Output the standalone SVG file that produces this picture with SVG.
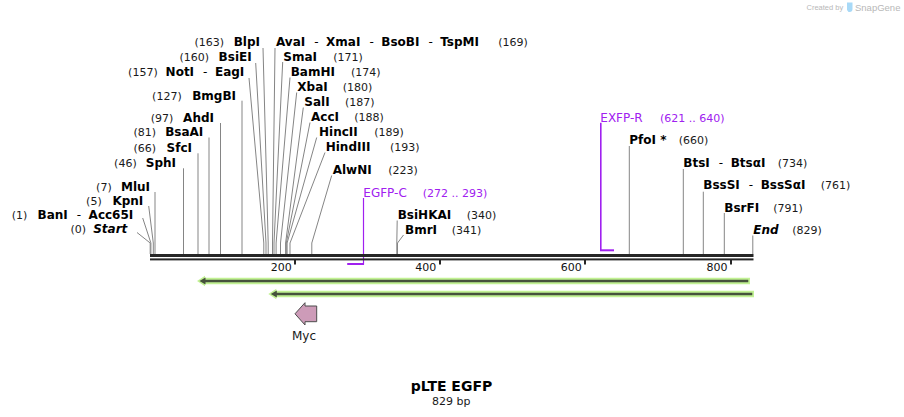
<svg xmlns="http://www.w3.org/2000/svg" width="904" height="417" viewBox="0 0 904 417">
<style>
text{font-family:"DejaVu Sans",Verdana,sans-serif}
.e{font-weight:bold;font-size:12px;fill:#000}
.i{font-weight:bold;font-style:italic;font-size:12px;fill:#000}
.h{font-size:12px;fill:#000}
.n{font-size:11px;fill:#1a1a1a}
.pt{font-size:12px;fill:#a020f0}
.pn{font-size:11px;fill:#a020f0}
.ld{stroke:#858585;stroke-width:1;fill:none}
.pr{stroke:#a020f0;fill:none}
.bb{fill:#262626}
.tk{fill:#262626}
.tl{font-size:11px;fill:#111}
.band{fill:#c2f294}
.core{stroke:#46523c;stroke-width:2.5;fill:none}
.wm{font-family:"Liberation Sans",Arial,sans-serif;fill:#b8b8b8}
</style>

<g id="watermark">
<text class="wm" x="806.5" y="10" font-size="7.5">Created by</text>
<path d="M847 2.5h5.5v6.5q0 3-3 3h-1l-1.5-2z" fill="#a8d9f7"/>
<text class="wm" x="855" y="10.5" font-size="9.5">SnapGene</text>
</g>

<g id="connectors">
<polyline class="ld" points="137,232.5 150.2,243 150.2,254"/>
<polyline class="ld" points="142.7,218 150.9,243 150.9,254"/>
<polyline class="ld" points="148.7,206 153.3,243 153.3,254"/>
<polyline class="ld" points="155,192 155,254"/>
<polyline class="ld" points="183.5,168.3 183.5,254"/>
<polyline class="ld" points="198,153.3 198,254"/>
<polyline class="ld" points="209,137.5 209,254"/>
<polyline class="ld" points="220.5,123 220.5,254"/>
<polyline class="ld" points="242,100.7 242,254"/>
<polyline class="ld" points="249,78 263.8,243 263.8,254"/>
<polyline class="ld" points="255.7,63 266,243 266,254"/>
<polyline class="ld" points="263,48 268.2,243 268.2,254"/>
<polyline class="ld" points="275,48 272.5,243 272.5,254"/>
<polyline class="ld" points="282.7,62 274,243 274,254"/>
<polyline class="ld" points="290,77.5 276.1,243 276.1,254"/>
<polyline class="ld" points="296.7,92.5 280.5,243 280.5,254"/>
<polyline class="ld" points="303.3,107.5 285.6,243 285.6,254"/>
<polyline class="ld" points="310,122.5 286.3,243 286.3,254"/>
<polyline class="ld" points="316.7,137.5 287.1,243 287.1,254"/>
<polyline class="ld" points="325,152.5 290,243 290,254"/>
<polyline class="ld" points="331.7,175.5 311.8,243 311.8,254"/>
<polyline class="ld" points="397.2,220.5 396.8,243 396.8,254"/>
<polyline class="ld" points="403.5,235 397.5,243 397.5,254"/>
<polyline class="ld" points="629.3,146 629.3,254"/>
<polyline class="ld" points="683.3,169 683.3,254"/>
<polyline class="ld" points="703.3,191.7 703.3,254"/>
<polyline class="ld" points="724.3,213 724.3,254"/>
<polyline class="ld" points="752.8,235.5 752.8,254"/>
</g>

<g id="primer-EGFP-C">
<line class="pr" stroke-width="1.2" x1="363.5" y1="198" x2="363.5" y2="264.5"/>
<line class="pr" stroke-width="2" x1="347.2" y1="264" x2="364" y2="264"/>
<text class="pt" x="363.3" y="196.7">EGFP-C</text>
<text class="pn" x="422.7" y="196.7">(272 .. 293)</text>
</g>

<g id="primer-EXFP-R">
<line class="pr" stroke-width="1.6" x1="600.8" y1="122.7" x2="600.8" y2="251"/>
<line class="pr" stroke-width="2" x1="600" y1="250.3" x2="614" y2="250.3"/>
<text class="pt" x="600.3" y="121.7">EXFP-R</text>
<text class="pn" x="660" y="121.7">(621 .. 640)</text>
</g>

<g id="backbone">
<rect class="bb" x="150" y="254" width="603.5" height="3"/>
<rect class="bb" x="150" y="258.4" width="603.5" height="2"/>
<rect class="tk" x="294" y="259" width="2" height="5.5"/>
<rect class="tk" x="439" y="259" width="2" height="5.5"/>
<rect class="tk" x="584" y="259" width="2" height="5.5"/>
<rect class="tk" x="730" y="259" width="2" height="5.5"/>
<text class="tl" x="291.8" y="270.6" text-anchor="end">200</text>
<text class="tl" x="436.2" y="270.6" text-anchor="end">400</text>
<text class="tl" x="581.7" y="270.6" text-anchor="end">600</text>
<text class="tl" x="727.4" y="270.6" text-anchor="end">800</text>
</g>

<g id="site-Start"><text class="n" x="86" y="233.3" text-anchor="end">(0)</text><text class="i" x="127.3" y="233.3" text-anchor="end">Start</text></g>
<g id="site-BanI"><text class="n" x="27.3" y="219" text-anchor="end">(1)</text><text x="133.3" y="219" text-anchor="end"><tspan class="e">BanI</tspan><tspan class="h" dx="9">-</tspan><tspan class="e" dx="7.5">Acc65I</tspan></text></g>
<g id="site-KpnI"><text class="n" x="101.7" y="205" text-anchor="end">(5)</text><text class="e" x="143.3" y="205" text-anchor="end">KpnI</text></g>
<g id="site-MluI"><text class="n" x="111.7" y="190.8" text-anchor="end">(7)</text><text class="e" x="150" y="190.8" text-anchor="end">MluI</text></g>
<g id="site-SphI"><text class="n" x="136.7" y="166.5" text-anchor="end">(46)</text><text class="e" x="176" y="166.5" text-anchor="end">SphI</text></g>
<g id="site-SfcI"><text class="n" x="156" y="151.5" text-anchor="end">(66)</text><text class="e" x="192" y="151.5" text-anchor="end">SfcI</text></g>
<g id="site-BsaAI"><text class="n" x="156" y="136" text-anchor="end">(81)</text><text class="e" x="203.3" y="136" text-anchor="end">BsaAI</text></g>
<g id="site-AhdI"><text class="n" x="173.3" y="121.5" text-anchor="end">(97)</text><text class="e" x="214" y="121.5" text-anchor="end">AhdI</text></g>
<g id="site-BmgBI"><text class="n" x="181.7" y="99.5" text-anchor="end">(127)</text><text class="e" x="236" y="99.5" text-anchor="end">BmgBI</text></g>
<g id="site-NotI"><text class="n" x="157.7" y="76" text-anchor="end">(157)</text><text x="244.3" y="76" text-anchor="end"><tspan class="e">NotI</tspan><tspan class="h" dx="9">-</tspan><tspan class="e" dx="7.5">EagI</tspan></text></g>
<g id="site-BsiEI"><text class="n" x="209" y="61" text-anchor="end">(160)</text><text class="e" x="251.7" y="61" text-anchor="end">BsiEI</text></g>
<g id="site-BlpI"><text class="n" x="224" y="46" text-anchor="end">(163)</text><text class="e" x="260" y="46" text-anchor="end">BlpI</text></g>

<g id="site-AvaI"><text x="276" y="46"><tspan class="e">AvaI</tspan><tspan class="h" dx="9">-</tspan><tspan class="e" dx="7.5">XmaI</tspan><tspan class="h" dx="9">-</tspan><tspan class="e" dx="7.5">BsoBI</tspan><tspan class="h" dx="9">-</tspan><tspan class="e" dx="7.5">TspMI</tspan></text><text class="n" x="498.3" y="46">(169)</text></g>
<g id="site-SmaI"><text class="e" x="283.3" y="61">SmaI</text><text class="n" x="333.3" y="61">(171)</text></g>
<g id="site-BamHI"><text class="e" x="290.7" y="76">BamHI</text><text class="n" x="351" y="76">(174)</text></g>
<g id="site-XbaI"><text class="e" x="297.3" y="91">XbaI</text><text class="n" x="342.7" y="91">(180)</text></g>
<g id="site-SalI"><text class="e" x="304.3" y="106">SalI</text><text class="n" x="345" y="106">(187)</text></g>
<g id="site-AccI"><text class="e" x="311" y="121">AccI</text><text class="n" x="354.3" y="121">(188)</text></g>
<g id="site-HincII"><text class="e" x="319" y="136">HincII</text><text class="n" x="374.3" y="136">(189)</text></g>
<g id="site-HindIII"><text class="e" x="325.7" y="151">HindIII</text><text class="n" x="390" y="151">(193)</text></g>
<g id="site-AlwNI"><text class="e" x="332.7" y="174">AlwNI</text><text class="n" x="388.3" y="174">(223)</text></g>
<g id="site-BsiHKAI"><text class="e" x="397.7" y="219.3">BsiHKAI</text><text class="n" x="466.7" y="219.3">(340)</text></g>
<g id="site-BmrI"><text class="e" x="405" y="234">BmrI</text><text class="n" x="451.7" y="234">(341)</text></g>
<g id="site-PfoI"><text class="e" x="629.3" y="144">PfoI *</text><text class="n" x="678.7" y="144">(660)</text></g>
<g id="site-BtsI"><text x="683.3" y="166.7"><tspan class="e">BtsI</tspan><tspan class="h" dx="9">-</tspan><tspan class="e" dx="7.5">BtsαI</tspan></text><text class="n" x="777.7" y="166.7">(734)</text></g>
<g id="site-BssSI"><text x="703.3" y="189.3"><tspan class="e">BssSI</tspan><tspan class="h" dx="9">-</tspan><tspan class="e" dx="7.5">BssSαI</tspan></text><text class="n" x="820.7" y="189.3">(761)</text></g>
<g id="site-BsrFI"><text class="e" x="724.3" y="211.7">BsrFI</text><text class="n" x="773.3" y="211.7">(791)</text></g>
<g id="site-End"><text class="i" x="753.3" y="234.3">End</text><text class="n" x="792.3" y="234.3">(829)</text></g>

<g id="feature-1">
<polygon class="band" points="197,281 205,275.8 205,277.8 750,277.8 750,284.3 205,284.3 205,286.2"/>
<line class="core" x1="204" y1="281" x2="748.3" y2="281"/>
<polygon fill="#46523c" points="199.5,281 205.5,277.6 205.5,284.4"/>
</g>
<g id="feature-2">
<polygon class="band" points="268.3,294 276.3,288.8 276.3,290.8 754,290.8 754,297.3 276.3,297.3 276.3,299.2"/>
<line class="core" x1="275" y1="294" x2="752.3" y2="294"/>
<polygon fill="#46523c" points="270.8,294 276.8,290.6 276.8,297.4"/>
</g>

<g id="feature-Myc">
<polygon points="295,313.8 305,302.7 305,306 316.7,306 316.7,321.7 305,321.7 305,325" fill="#cd9bb8" stroke="#4d4d4d" stroke-width="1"/>
<text x="304" y="339.5" text-anchor="middle" font-size="12" fill="#1a1a1a">Myc</text>
</g>

<g id="title">
<text x="451.5" y="391" text-anchor="middle" font-size="14" font-weight="bold" fill="#000">pLTE EGFP</text>
<text x="451.3" y="404.5" text-anchor="middle" font-size="11" fill="#1a1a1a">829 bp</text>
</g>
</svg>
